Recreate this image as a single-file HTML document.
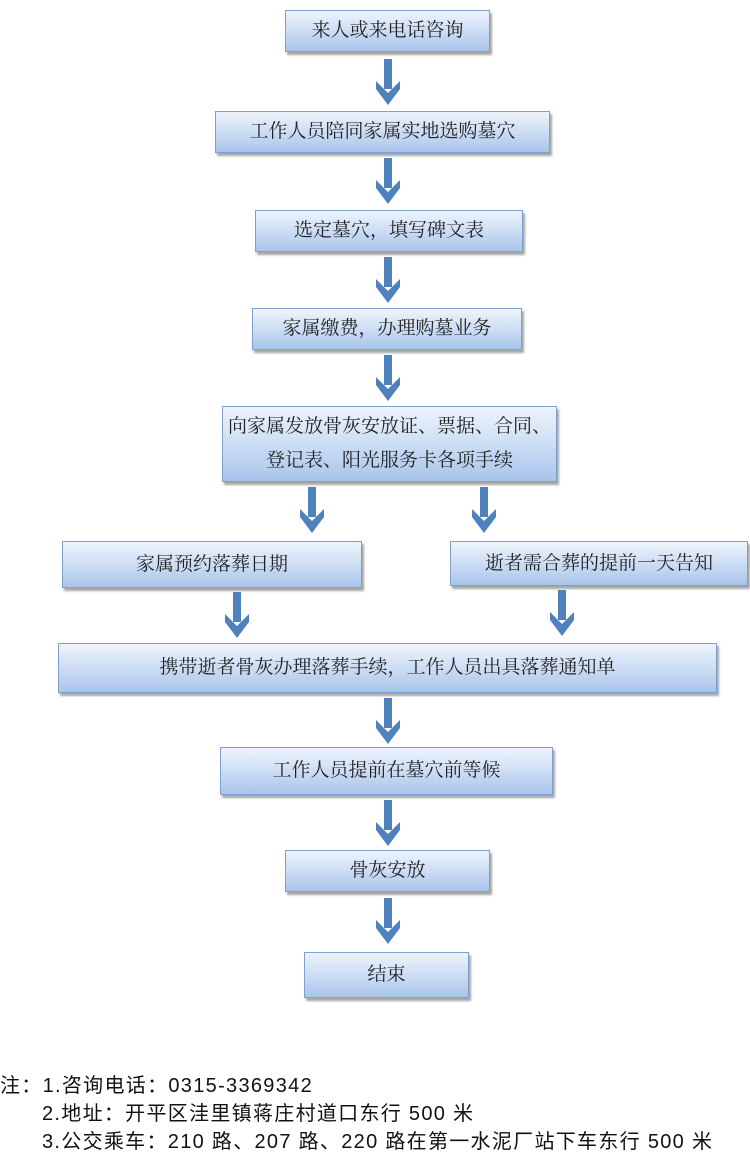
<!DOCTYPE html>
<html><head><meta charset="utf-8"><style>
body{margin:0;width:750px;height:1150px;background:#fff;position:relative;overflow:hidden;font-family:"Liberation Serif","Noto Serif CJK SC",serif;}
.b{position:absolute;box-sizing:border-box;border:1px solid #7f9fcf;background:linear-gradient(#eef4fc,#c9dbf3 55%,#a9c4ea);box-shadow:2px 3px 2px rgba(0,0,0,0.35);display:flex;align-items:center;justify-content:center;text-align:center;font-size:19px;color:#222;line-height:34px;}
.a{position:absolute;}
.n{position:absolute;left:0;font-family:"Liberation Sans","Noto Sans CJK SC",sans-serif;font-size:20px;letter-spacing:1.3px;color:#111;white-space:nowrap;}
</style></head><body>
<div class="b" style="left:285px;top:10px;width:205px;height:42px">来人或来电话咨询</div>
<div class="b" style="left:215px;top:111px;width:335px;height:42px">工作人员陪同家属实地选购墓穴</div>
<div class="b" style="left:255px;top:210px;width:268px;height:42px">选定墓穴，填写碑文表</div>
<div class="b" style="left:252px;top:308px;width:270px;height:42px">家属缴费，办理购墓业务</div>
<div class="b" style="left:222px;top:406px;width:335px;height:76px">向家属发放骨灰安放证、票据、合同、<br>登记表、阳光服务卡各项手续</div>
<div class="b" style="left:62px;top:541px;width:300px;height:47px">家属预约落葬日期</div>
<div class="b" style="left:450px;top:541px;width:298px;height:45px">逝者需合葬的提前一天告知</div>
<div class="b" style="left:58px;top:643px;width:659px;height:50px">携带逝者骨灰办理落葬手续，工作人员出具落葬通知单</div>
<div class="b" style="left:220px;top:747px;width:333px;height:48px">工作人员提前在墓穴前等候</div>
<div class="b" style="left:285px;top:850px;width:205px;height:42px">骨灰安放</div>
<div class="b" style="left:304px;top:952px;width:165px;height:46px">结束</div>
<svg class="a" width="750" height="1150" style="left:0;top:0">
<defs><g id="ar"><rect x="-4" y="0" width="8" height="30" fill="#4f81bd"/><path d="M-12,22 L0,34 L12,22 L12,30 L0,46 L-12,30Z" fill="#4f81bd"/></g></defs>
<use href="#ar" x="388" y="59"/>
<use href="#ar" x="388" y="158"/>
<use href="#ar" x="388" y="257"/>
<use href="#ar" x="388" y="355"/>
<use href="#ar" x="312" y="487"/>
<use href="#ar" x="484" y="487"/>
<use href="#ar" x="237" y="592"/>
<use href="#ar" x="562" y="590"/>
<use href="#ar" x="388" y="698"/>
<use href="#ar" x="388" y="800"/>
<use href="#ar" x="388" y="898"/>
</svg>
<div class="n" style="top:1069px">注：1.咨询电话：0315-3369342</div>
<div class="n" style="top:1097px;left:42px">2.地址：开平区洼里镇蒋庄村道口东行 500 米</div>
<div class="n" style="top:1125px;left:42px">3.公交乘车：210 路、207 路、220 路在第一水泥厂站下车东行 500 米</div>
</body></html>
